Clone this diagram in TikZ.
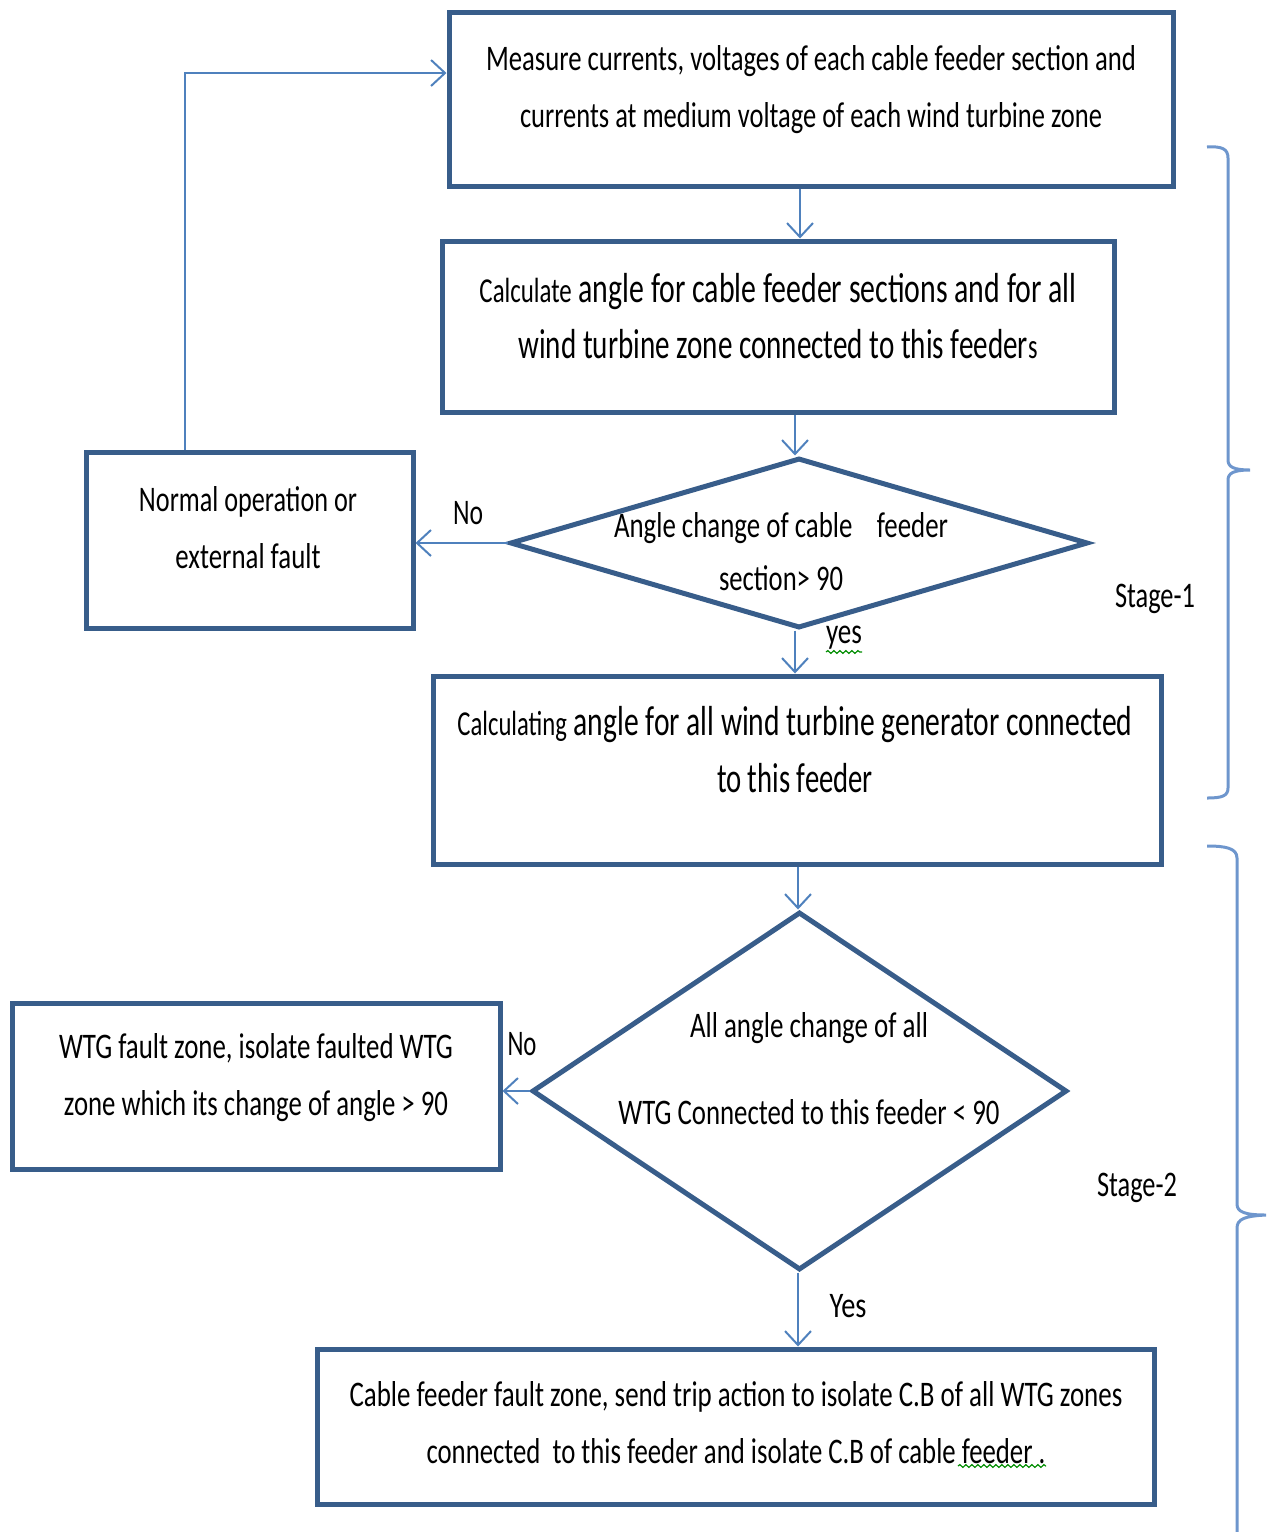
\documentclass[tikz,border=0pt]{standalone}
\usepackage{fontspec}
\setmainfont{Carlito}
\usetikzlibrary{shapes.geometric,arrows.meta,decorations.pathmorphing}
% one drawing unit = 0.5pt
\newdimen\pxu \pxu=0.5pt
% set a line of text squeezed horizontally to a given width (in drawing units)
\newcommand\fitw[2]{\resizebox{#1\pxu}{\height}{#2}}
\definecolor{boxblue}{RGB}{56,93,138}
\definecolor{linkblue}{RGB}{79,129,189}
\definecolor{braceblue}{RGB}{110,150,205}
\begin{document}
\begin{tikzpicture}[x=0.5pt,y=-0.5pt,
  procbox/.style={draw=boxblue, line width=2.5pt, rectangle, inner sep=0pt},
  decide/.style={draw=boxblue, line width=2.5pt, diamond, inner sep=0pt},
  txt/.style={align=center, inner sep=0pt, text=black, font=\fontsize{18}{28.5}\selectfont},
  link/.style={draw=linkblue, line width=1pt, -{Straight Barb[length=7pt,width=13pt]}},
  brace/.style={draw=braceblue, line width=1.5pt},
  squiggle/.style={draw=green!55!black, line width=0.6pt, decorate,
    decoration={snake, amplitude=0.7pt, segment length=3pt}}]
\useasboundingbox (0,0) rectangle (1266,1532);

% process boxes and decisions
\node[procbox, minimum width=362pt, minimum height=87pt]   (measure) at (811,99) {};
\node[procbox, minimum width=336pt, minimum height=85.5pt] (calc)    at (778,326.5) {};
\node[decide,  minimum width=289pt, minimum height=85pt]   (d1)      at (799,543) {};
\node[procbox, minimum width=163.5pt, minimum height=88pt] (normal)  at (249.5,540) {};
\node[procbox, minimum width=364pt, minimum height=94pt]   (wind)    at (797,770) {};
\node[decide,  minimum width=267.5pt, minimum height=179pt](d2)      at (799.5,1091) {};
\node[procbox, minimum width=244pt, minimum height=83pt]   (wtg)     at (256,1086) {};
\node[procbox, minimum width=418.5pt, minimum height=77.5pt](cable)  at (735.5,1426.5) {};

% texts
\node[txt] (measuretxt) at (811,90)
  {\fitw{650}{Measure currents, voltages of each cable feeder section and}\\
   \fitw{582}{currents at medium voltage of each wind turbine zone}};
\node[txt, font=\fontsize{21}{28}\selectfont] (calctxt) at (778,316)
  {\fitw{597}{{\fontsize{17.5}{28}\selectfont Calculate} angle for cable feeder sections and for all}\\
   \fitw{519}{wind turbine zone connected to this feeder{\fontsize{17.5}{28}\selectfont s}}};
\node[txt, font=\fontsize{18}{26.5}\selectfont] (d1txt) at (781,552)
  {\fitw{334}{Angle change of cable\ \ \ \ feeder}\\
   \fitw{124}{section> 90}};
\node[txt] (normaltxt) at (248,528)
  {\fitw{218}{Normal operation or}\\
   \fitw{145}{external fault}};
\node[txt, font=\fontsize{21}{28.5}\selectfont] (windtxt) at (795,750)
  {\fitw{675}{{\fontsize{17.5}{28}\selectfont Calculating} angle for all wind turbine generator connected}\\
   \fitw{156}{to this feeder}};
\node[txt, font=\fontsize{18}{43.5}\selectfont] (d2txt) at (809,1069)
  {\fitw{238}{All angle change of all}\\
   \fitw{381}{WTG Connected to this feeder < 90}};
\node[txt] (wtgtxt) at (256,1077.5)
  {\fitw{394}{WTG fault zone, isolate faulted WTG}\\
   \fitw{384}{zone which its change of angle > 90}};
\node[txt] (cabletxt) at (736,1423)
  {\fitw{773}{Cable feeder fault zone, send trip action to isolate C.B of all WTG zones}\\
   \fitw{619}{connected\ \ to this feeder and isolate C.B of cable feeder .}};

% branch labels
\node[txt] (nolbl1)  at (468,513)  {\fitw{30}{No}};
\node[txt] (yeslbl1) at (844,638)  {\fitw{36}{yes}};
\node[txt] (nolbl2)  at (522,1044) {\fitw{29}{No}};
\node[txt] (yeslbl2) at (848,1306) {\fitw{37}{Yes}};
\node[txt] (stage1)  at (1155,599) {\fitw{80}{Stage-1}};
\node[txt] (stage2)  at (1137,1188){\fitw{80}{Stage-2}};

% helper coordinates for connector routes
\coordinate (xa) at (800,0);
\coordinate (xb) at (795,0);
\coordinate (xc) at (798,0);
\coordinate (xloop) at (185,0);
\coordinate (yloop) at (0,73);

% connectors
\draw[link] (measure.south -| xa) -- (calc.north -| xa);
\draw[link] (calc.south -| xb) -- (d1.north -| xb);
\draw[link] (d1.south -| xb) -- (wind.north -| xb);
\draw[link] (d1.west) -- (d1.west -| normal.east);
\draw[link] (normal.north -| xloop) |- (measure.west |- yloop);
\draw[link] (wind.south -| xc) -- (d2.north -| xc);
\draw[link] (d2.west) -- (d2.west -| wtg.east);
\draw[link] (d2.south -| xc) -- (cable.north -| xc);

% stage braces
\draw[brace] (1207,147) .. controls (1222,146) and (1228,149) .. (1228,158)
  -- (1228,460) .. controls (1228,467) and (1234,470) .. (1250,470)
  .. controls (1234,470) and (1228,473) .. (1228,480)
  -- (1228,788) .. controls (1228,796) and (1222,798) .. (1207,798);
\draw[brace] (1207,846) .. controls (1225,846) and (1237,848) .. (1237,858)
  -- (1237,1204) .. controls (1237,1212) and (1245,1215) .. (1266,1215)
  .. controls (1245,1216) and (1237,1219) .. (1237,1228)
  -- (1237,1532);

% spelling marks under words
\draw[squiggle] (826,652) -- (862,652);
\draw[squiggle] (958,1466) -- (1046,1466);
\end{tikzpicture}
\end{document}
